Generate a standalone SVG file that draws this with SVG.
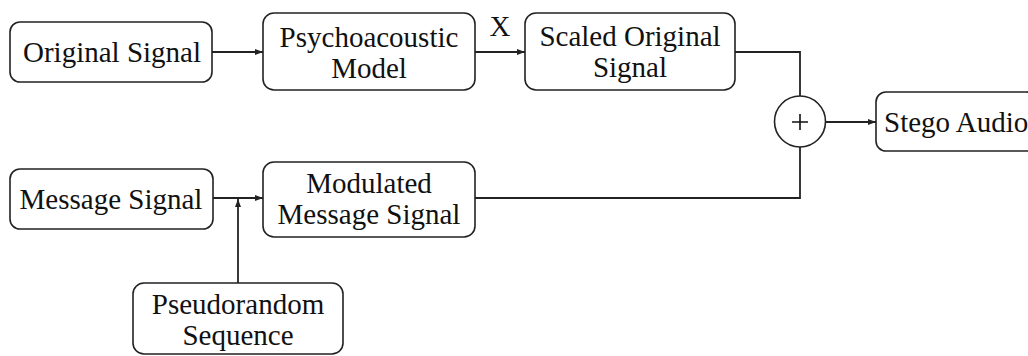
<svg xmlns="http://www.w3.org/2000/svg" width="1028" height="356" viewBox="0 0 1028 356">
<style>
.box{fill:#fff;stroke:#222;stroke-width:1.6}
.t{font-family:'Liberation Serif',serif;font-size:29px;fill:#111;text-anchor:middle}
.c{fill:none;stroke:#222;stroke-width:1.8}
</style>
<defs>
<marker id="ah" viewBox="0 0 8 6" refX="8" refY="3" markerWidth="8" markerHeight="6" markerUnits="userSpaceOnUse" orient="auto">
<path d="M0,0 L8,3 L0,6 z" fill="#222"/>
</marker>
</defs>
<rect width="1028" height="356" fill="#fff"/>
<g id="connectors">
<path class="c" d="M212,52 H263" marker-end="url(#ah)"/>
<path class="c" d="M475,52 H525" marker-end="url(#ah)"/>
<path class="c" d="M735,52 H800 V96"/>
<path class="c" d="M826,122 H876" marker-end="url(#ah)"/>
<path class="c" d="M475,198 H800 V147"/>
<path class="c" d="M213,198 H263" marker-end="url(#ah)"/>
<path class="c" d="M238,283 V199" marker-end="url(#ah)"/>
<text class="t" x="500" y="36">X</text>
</g>
<g id="original">
<rect class="box" x="10" y="22" width="202" height="60" rx="10"/>
<text class="t" x="112" y="62">Original Signal</text>
</g>
<g id="psycho">
<rect class="box" x="263" y="13" width="212" height="77" rx="11"/>
<text class="t" x="369" y="47">Psychoacoustic</text>
<text class="t" x="369" y="78">Model</text>
</g>
<g id="scaled">
<rect class="box" x="525" y="13" width="210" height="77" rx="11"/>
<text class="t" x="630" y="46">Scaled Original</text>
<text class="t" x="630" y="77">Signal</text>
</g>
<g id="sum">
<circle cx="800" cy="121.5" r="25.5" fill="#fff" stroke="#222" stroke-width="1.6"/>
<path d="M792,122 H808 M800,114 V130" stroke="#111" stroke-width="1.6"/>
</g>
<g id="stego">
<rect class="box" x="876" y="92" width="160" height="59" rx="10"/>
<text class="t" x="884" y="132" style="text-anchor:start">Stego Audio</text>
</g>
<g id="message">
<rect class="box" x="10" y="169" width="203" height="60" rx="10"/>
<text class="t" x="111" y="209">Message Signal</text>
</g>
<g id="modulated">
<rect class="box" x="263" y="162" width="212" height="75" rx="11"/>
<text class="t" x="369" y="193">Modulated</text>
<text class="t" x="369" y="224">Message Signal</text>
</g>
<g id="pseudo">
<rect class="box" x="133" y="283" width="210" height="71" rx="11"/>
<text class="t" x="238" y="314">Pseudorandom</text>
<text class="t" x="238" y="345">Sequence</text>
</g>
</svg>
